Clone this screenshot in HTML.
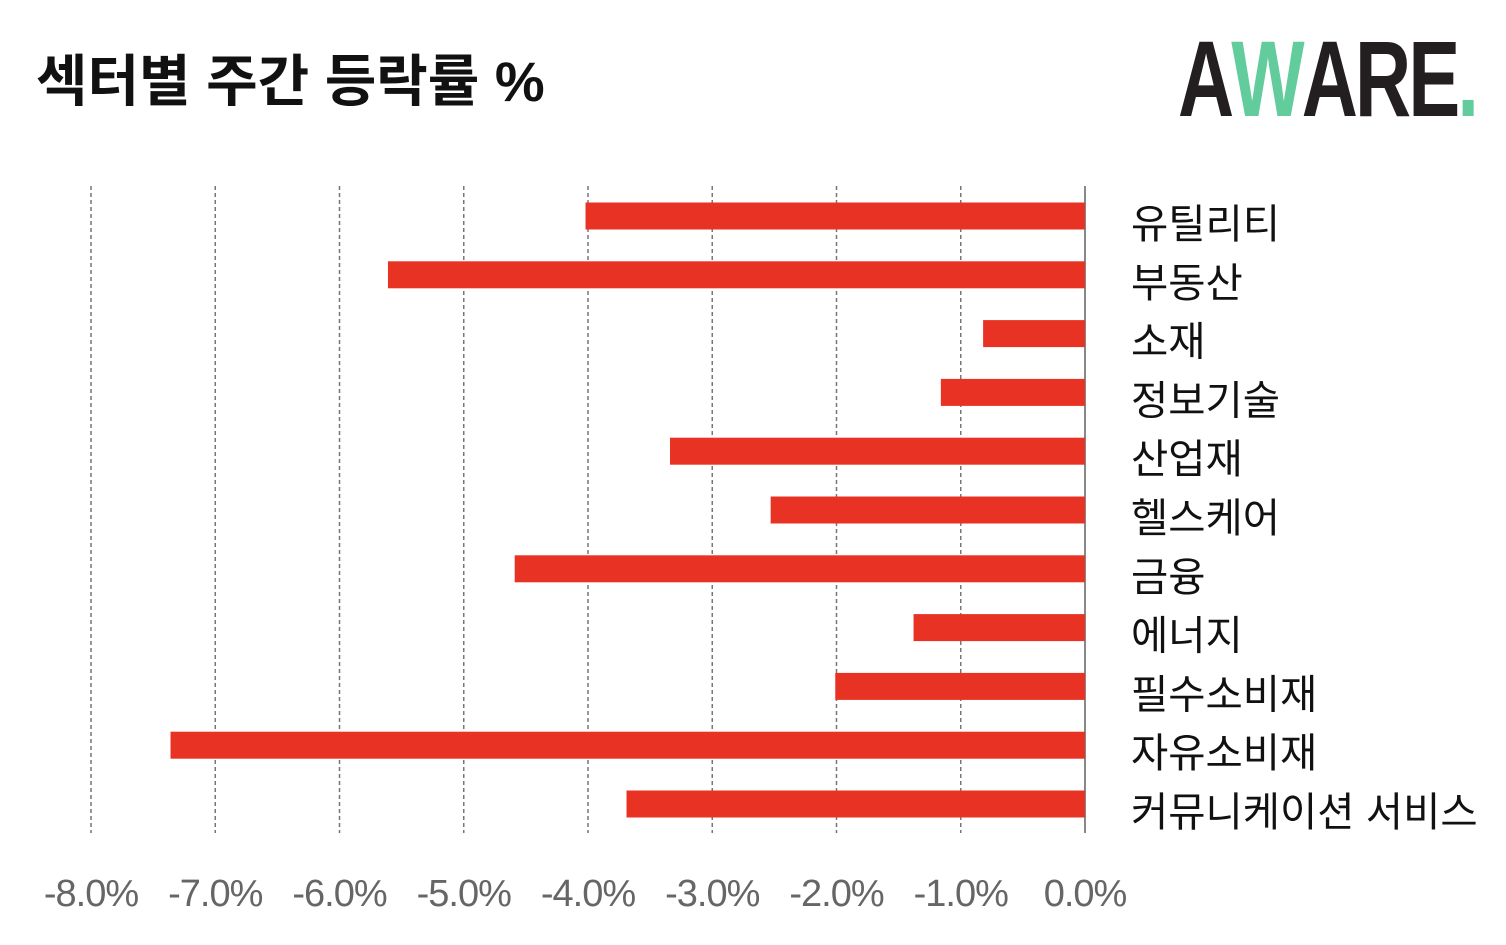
<!DOCTYPE html>
<html><head><meta charset="utf-8"><style>
body{margin:0;width:1506px;height:940px;background:#fff;overflow:hidden;font-family:"Liberation Sans","Noto Sans CJK KR",sans-serif;}
</style></head><body>
<svg width="1506" height="940" xmlns="http://www.w3.org/2000/svg">
<text x="36" y="101" font-size="56" font-weight="bold" fill="#111" font-family="Liberation Sans, Noto Sans CJK KR, sans-serif">섹터별 주간 등락률 %</text>
<g transform="translate(1178,116) scale(0.72,1)">
<text x="0" y="0" font-size="108" font-weight="bold" font-family="Liberation Sans, sans-serif" fill="#231f20" letter-spacing="-4">A<tspan fill="#62cc9c">W</tspan>ARE<tspan fill="#62cc9c">.</tspan></text>
</g>
<g id="grid"></g>
<g id="bars"></g>
<g id="labels"></g>
<g id="ticks"></g>
</svg>
<script>
const categories=["유틸리티","부동산","소재","정보기술","산업재","헬스케어","금융","에너지","필수소비재","자유소비재","커뮤니케이션 서비스"];
const values=[-4.02,-5.61,-0.82,-1.16,-3.34,-2.53,-4.59,-1.38,-2.01,-7.36,-3.69];
const tickValues=[-8,-7,-6,-5,-4,-3,-2,-1,0];
const tickLabels=["-8.0%","-7.0%","-6.0%","-5.0%","-4.0%","-3.0%","-2.0%","-1.0%","0.0%"];
const NS="http://www.w3.org/2000/svg";
const x=v=>1085+v*124.25;
const y=i=>216+i*58.8;
function mk(t,a,p){const e=document.createElementNS(NS,t);for(const k in a)e.setAttribute(k,a[k]);p.appendChild(e);return e;}
const grid=document.getElementById('grid'),bars=document.getElementById('bars'),labels=document.getElementById('labels'),ticks=document.getElementById('ticks');
tickValues.forEach((v,i)=>{
 const l=mk('line',{x1:x(v),x2:x(v),y1:186,y2:833,stroke:v===0?'#888':'#777','stroke-width':v===0?2:1.5,'stroke-dasharray':v===0?'none':'4,3'},grid);
 
 
 const t=mk('text',{x:x(v),y:906,'text-anchor':'middle','font-size':38,fill:'#666','letter-spacing':-1},ticks);
 t.textContent=tickLabels[i];
 
 
});
categories.forEach((c,i)=>{
 const v=values[i];
 const r=mk('rect',{x:x(v),y:y(i)-13.5,width:x(0)-x(v),height:27,fill:'#e83324'},bars);
 
 
 const t=mk('text',{x:1131,y:y(i)+22,'font-size':40.5,fill:'#111'},labels);
 t.textContent=c;
 
 
});
</script>
</body></html>
